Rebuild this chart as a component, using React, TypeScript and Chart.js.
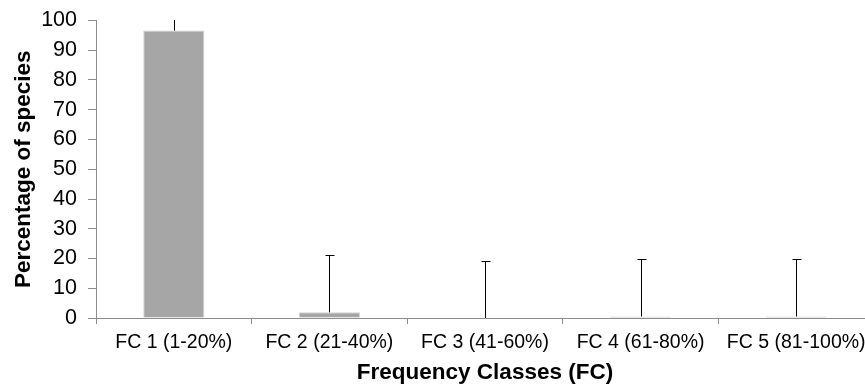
import React, { useEffect, useRef } from "react";
import { Chart, registerables } from "chart.js";

Chart.register(...registerables);

const categories = [
  "FC 1 (1-20%)",
  "FC 2 (21-40%)",
  "FC 3 (41-60%)",
  "FC 4 (61-80%)",
  "FC 5 (81-100%)",
];
const percentages = [96.6, 1.9, 0, 0.5, 0.5];
const errors = [19.2, 19.2, 19.2, 19.2, 19.2];
const yTickStep = 10;

const FONT = "'Liberation Sans', Arial, sans-serif";

const errorBarPlugin = {
  id: "errorBars",
  afterDatasetsDraw(chart: any) {
    const ctx = chart.ctx;
    const meta = chart.getDatasetMeta(0);
    const yScale = chart.scales.y;
    const area = chart.chartArea;
    ctx.save();
    ctx.beginPath();
    ctx.rect(area.left, area.top - 0.5, area.right - area.left, area.bottom - area.top + 1);
    ctx.clip();
    ctx.strokeStyle = "#000000";
    ctx.lineWidth = 1;
    meta.data.forEach((bar: any, i: number) => {
      const v = percentages[i];
      const x = Math.round(bar.x) + 0.5;
      const y0 = yScale.getPixelForValue(v);
      const y1 = Math.round(yScale.getPixelForValue(v + errors[i])) + 0.5;
      ctx.beginPath();
      ctx.moveTo(x, y0);
      ctx.lineTo(x, y1);
      ctx.stroke();
      if (y1 >= area.top) {
        ctx.beginPath();
        ctx.moveTo(x - 4, y1);
        ctx.lineTo(x + 5, y1);
        ctx.stroke();
      }
    });
    ctx.restore();
  },
};

export default function App() {
  const ref = useRef<HTMLCanvasElement | null>(null);

  useEffect(() => {
    document.body.style.margin = "0";
    const canvas = ref.current;
    if (!canvas) return;
    const chart = new Chart(canvas, {
      type: "bar",
      data: {
        labels: categories,
        datasets: [
          {
            data: percentages,
            backgroundColor: "#a6a6a6",
            borderColor: "#d4d4d4",
            borderWidth: 1,
            categoryPercentage: 1,
            barPercentage: 0.393,
          },
        ],
      },
      options: {
        animation: false,
        responsive: false,
        devicePixelRatio: 1,
        layout: { padding: { top: 20.5, right: 0, left: 0, bottom: 0 } },
        plugins: {
          legend: { display: false },
          tooltip: { enabled: false },
        },
        scales: {
          x: {
            afterFit: (scale: any) => {
              scale.height = 68;
              scale.paddingLeft = 0;
              scale.paddingRight = 0;
            },
            grid: {
              offset: true,
              drawOnChartArea: false,
              drawTicks: true,
              tickLength: 6,
              color: "#8c8c8c",
            },
            border: { color: "#8c8c8c", width: 1 },
            ticks: {
              color: "#000000",
              font: { family: FONT, size: 19.5 },
              padding: 7,
              maxRotation: 0,
              autoSkip: false,
            },
            title: {
              display: true,
              text: "Frequency Classes (FC)",
              color: "#000000",
              font: { family: FONT, size: 22.5, weight: "bold" },
              padding: { top: 0, bottom: 0 },
            },
          },
          y: {
            min: 0,
            max: 100,
            afterFit: (scale: any) => {
              scale.width = 96;
              scale.paddingTop = 0;
              scale.paddingBottom = 0;
            },
            grid: {
              drawOnChartArea: false,
              drawTicks: true,
              tickLength: 8,
              color: "#8c8c8c",
            },
            border: { color: "#8c8c8c", width: 1 },
            ticks: {
              stepSize: yTickStep,
              autoSkip: false,
              color: "#000000",
              font: { family: FONT, size: 21.5 },
              padding: 11,
            },
            title: {
              display: true,
              text: "Percentage of species",
              color: "#000000",
              font: { family: FONT, size: 22.5, weight: "bold" },
              padding: { top: 10, bottom: 0 },
            },
          },
        },
      },
      plugins: [errorBarPlugin],
    });
    return () => chart.destroy();
  }, []);

  return (
    <div style={{ width: 865, height: 386, overflow: "hidden", position: "relative" }}>
      <canvas ref={ref} width={874} height={386} style={{ display: "block" }} />
    </div>
  );
}
